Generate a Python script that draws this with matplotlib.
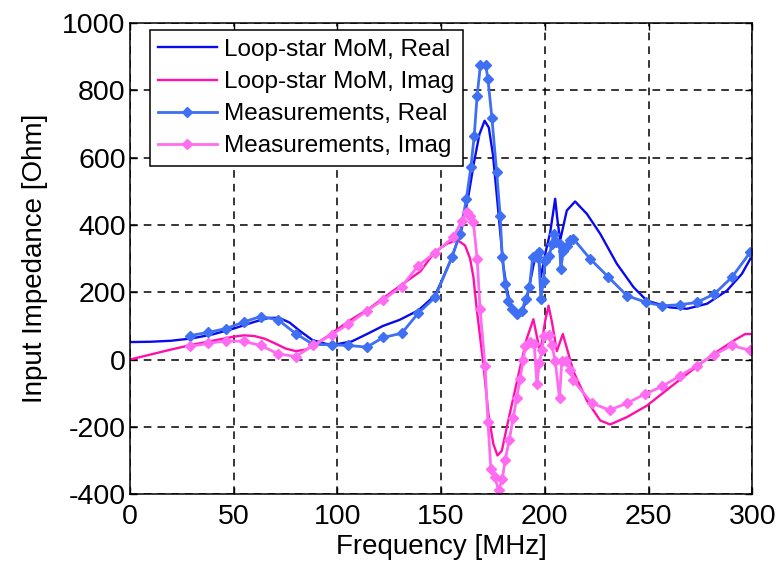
import matplotlib
matplotlib.use('Agg')
import matplotlib.pyplot as plt

plt.rcParams['font.family'] = ['Liberation Sans', 'DejaVu Sans']
plt.rcParams['axes.unicode_minus'] = False

# Loop-star MoM, real part
mom_f_re = [0, 10, 20, 30, 40, 50, 60, 67, 72, 77, 82, 88, 95, 100, 107, 115, 122, 130,
            139, 147, 150, 155, 160, 163, 166, 168.5, 171, 173, 175, 177, 178.5, 180, 182,
            184, 186.5, 189, 191.5, 194.5, 196.5, 198.1, 200.2, 202.6, 205, 206, 207.4,
            210.6, 214.6, 220.3, 226.7, 234.7, 242.8, 249.2, 260.5, 268.5, 278.2, 287.8,
            295, 300]
mom_re = [52, 53, 56, 63, 75, 92, 112, 124, 124, 110, 85, 58, 46, 46, 54, 78, 100, 118,
          146, 190, 230, 300, 390, 480, 590, 670, 710, 690, 610, 480, 380, 280, 200,
          155, 130, 140, 185, 280, 325, 245, 314, 378, 478, 420, 354,
          443, 470, 433, 374, 285, 215, 175, 155, 151, 166, 205,
          255, 310]

# Loop-star MoM, imaginary part
mom_f_im = [0, 10, 20, 30, 40, 50, 55, 60, 65, 70, 75, 80, 85, 90, 95, 100, 107, 115, 120,
            130, 140, 147, 153, 158, 161.6, 164, 165.6, 167.2, 170.4, 172.8, 175.2, 177.2,
            179.3, 181.7, 184.9, 188.1, 191.3, 194.5, 196.1, 197.8, 200.2, 201.8, 203.5,
            205.8, 208.7, 213.8, 220.3, 226.7, 231.5, 239.6, 249.2, 260.5, 271.7, 281.4,
            291, 296.6, 300]
mom_im = [0, 15, 30, 44, 56, 68, 72, 70, 62, 48, 33, 25, 30, 48, 68, 90, 120, 150, 173,
          218, 262, 320, 345, 355, 339, 300, 245, 150, -13, -161, -251, -285,
          -271, -201, -112, -23, 62, 120, 71, 20, 116, 160, 110,
          25, 76, -35, -122, -181, -193, -171, -137, -82, -28, 17,
          56, 76, 76]

# Measurements, real part
meas_f_re = [28.9, 37.8, 46.3, 55, 63, 71.5, 80, 88.4, 97.3, 105.3, 114.2, 122.2, 131, 139,
             147.1, 155.2, 159.2, 162.2, 164.4, 166, 167.4, 169, 171.5, 172.6, 174.5,
             176.8, 178.5, 179.5, 180.9, 182.5, 184.1, 186.5, 188.9, 190.8, 192.6, 194.2,
             196.2, 197, 198.1, 199.4, 200.2, 202.2, 203.4, 204.2, 205.5, 207.1, 207.7,
             209, 210.6, 212.2, 213.8, 221.9, 230.7, 239.6, 248.9, 256.5, 265, 273.3,
             281.7, 290.2, 299]
meas_re = [71, 81, 92, 112, 128, 118, 77, 45, 44, 42, 37, 66, 78, 138,
           185, 304, 374, 478, 573, 666, 785, 877, 877, 834, 719,
           557, 427, 305, 225, 175, 150, 135, 145, 180, 215, 306,
           304, 319, 180, 235, 294, 309, 344, 374, 349, 344, 270,
           324, 339, 354, 359, 299, 245, 190, 170, 160, 163, 170,
           195, 245, 319]

# Measurements, imaginary part
meas_f_im = [28.9, 37.8, 46.3, 55, 63, 71.5, 80, 88.4, 97.3, 105.3, 114.2, 122.2, 131, 139,
             147.1, 156, 160, 162.4, 164, 165.6, 167.4, 168.8, 171.2, 172.6, 174, 176,
             177.7, 179.5, 180.9, 182.9, 184.8, 186.4, 188.1, 189.6, 190.7, 192.9, 194.9,
             196.2, 197.4, 198.6, 199.7, 201.8, 203.4, 205, 207.1, 208.2, 210.2, 212,
             213.8, 222.7, 231.2, 239.6, 248.4, 256.5, 265.3, 273.3, 281.7, 290.2, 299]
meas_im = [39, 48, 56, 54, 42, 17, 9, 42, 74, 105, 145, 178, 217, 279,
           318, 364, 413, 438, 428, 408, 299, 151, -18, -186, -325, -350,
           -389, -355, -299, -238, -173, -115, -57, 0, 40, 53, 45,
           -72, -10, 27, 71, 72, 42, -3, -115, -5, -3, -30,
           -62, -130, -150, -130, -102, -80, -48, -18, 15, 42, 27]

xticks = [0, 50, 100, 150, 200, 250, 300]
yticks = [-400, -200, 0, 200, 400, 600, 800, 1000]

fig = plt.figure(figsize=(7.82, 5.66), dpi=100)
ax = fig.add_axes([0.166, 0.127, 0.796, 0.832])

ax.plot(mom_f_re, mom_re, color='#0A0AF0', lw=1.7, label='Loop-star MoM, Real')
ax.plot(mom_f_im, mom_im, color='#FF10A8', lw=1.7, label='Loop-star MoM, Imag')
ax.plot(meas_f_re, meas_re, color='#3F6FF2', lw=2.0, marker='D', ms=5,
        label='Measurements, Real')
ax.plot(meas_f_im, meas_im, color='#FF6CF2', lw=2.0, marker='D', ms=5,
        label='Measurements, Imag')

ax.set_xlim(0, 300)
ax.set_ylim(-400, 1000)
ax.set_xticks(xticks)
ax.set_yticks(yticks)
ax.grid(True, color='black', linestyle=(0, (5, 4)), linewidth=1.1)
ax.tick_params(direction='in', top=True, right=True, length=5, width=1,
               labelsize=20.5)
ax.tick_params(axis='x', pad=7)
ax.tick_params(axis='y', pad=3)
for s in ax.spines.values():
    s.set_linewidth(1.1)

ax.set_xlabel('Frequency [MHz]', fontsize=20, labelpad=3)
ax.set_ylabel('Input Impedance [Ohm]', fontsize=20, labelpad=10)

leg = ax.legend(loc='upper left', bbox_to_anchor=(0.032, 0.985), borderaxespad=0,
                fontsize=17.5, handlelength=2.4, handletextpad=0.3,
                labelspacing=0.42, borderpad=0.35, fancybox=False, framealpha=1)
leg.get_frame().set_edgecolor('black')
leg.get_frame().set_linewidth(1.1)

fig.savefig('out.png', dpi=100)
